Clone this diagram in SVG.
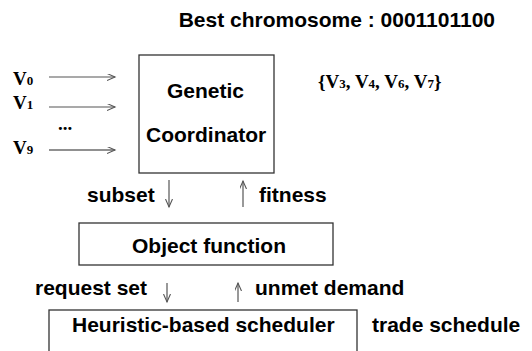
<svg xmlns="http://www.w3.org/2000/svg" width="532" height="351" viewBox="0 0 532 351">
<style>
.s{font-family:"Liberation Sans",Arial,sans-serif;font-weight:bold;font-size:21px;fill:#000}
.v{font-family:"Liberation Serif","Times New Roman",serif;font-weight:bold;font-size:19px;fill:#000}
.sub{font-size:13px}
.box{fill:#fff;stroke:#333;stroke-width:1.3}
.ln{fill:none;stroke:#555;stroke-width:1.2}
</style>
<defs>
<marker id="ah" markerUnits="userSpaceOnUse" markerWidth="10" markerHeight="8" refX="8" refY="3.5" orient="auto">
<path d="M0,0 L8,3.5 L0,7" fill="none" stroke="#555" stroke-width="1.1"/>
</marker>
</defs>
<rect width="532" height="351" fill="#fff"/>
<text class="s" x="495" y="27" text-anchor="end">Best chromosome : 0001101100</text>
<g id="inputs">
<text class="v" x="13" y="85">V<tspan class="sub">0</tspan></text>
<text class="v" x="13" y="109">V<tspan class="sub">1</tspan></text>
<text class="v" x="58" y="130">...</text>
<text class="v" x="13" y="154">V<tspan class="sub">9</tspan></text>
</g>
<g id="genetic-coordinator">
<rect class="box" x="139" y="55" width="135" height="118"/>
<text class="s" x="167" y="98">Genetic</text>
<text class="s" x="146" y="142">Coordinator</text>
</g>
<g id="best-set">
<text class="v" x="318" y="88">{V<tspan class="sub">3</tspan>, V<tspan class="sub">4</tspan>, V<tspan class="sub">6</tspan>, V<tspan class="sub">7</tspan>}</text>
</g>
<g id="object-function">
<rect class="box" x="79" y="223" width="254" height="42"/>
<text class="s" x="132" y="253">Object function</text>
</g>
<g id="scheduler">
<rect class="box" x="49" y="310" width="308" height="50"/>
<text class="s" x="72" y="332">Heuristic-based scheduler</text>
</g>
<g id="labels">
<text class="s" x="87" y="202">subset</text>
<text class="s" x="259" y="202">fitness</text>
<text class="s" x="35" y="295">request set</text>
<text class="s" x="255" y="295">unmet demand</text>
<text class="s" x="372" y="332">trade schedule</text>
</g>
<g id="connectors">
<line class="ln" x1="49" y1="77" x2="115" y2="77" marker-end="url(#ah)"/>
<line class="ln" x1="49" y1="107" x2="115" y2="107" marker-end="url(#ah)"/>
<line class="ln" x1="49" y1="150" x2="115" y2="150" marker-end="url(#ah)" style="stroke:#222"/>
<line class="ln" x1="169" y1="180" x2="169" y2="207" marker-end="url(#ah)"/>
<line class="ln" x1="243" y1="207" x2="243" y2="181" marker-end="url(#ah)"/>
<line class="ln" x1="167" y1="283" x2="167" y2="302" marker-end="url(#ah)"/>
<line class="ln" x1="238" y1="302" x2="238" y2="283" marker-end="url(#ah)"/>
</g>
</svg>
